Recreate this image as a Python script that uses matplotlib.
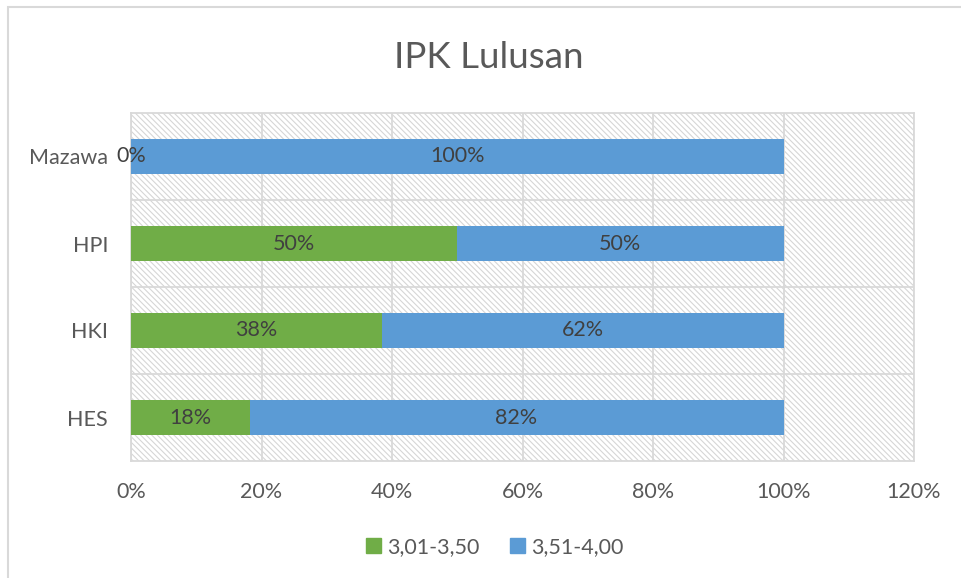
import matplotlib
matplotlib.use("Agg")
import matplotlib.pyplot as plt
from matplotlib.patches import Rectangle, Patch
from matplotlib.ticker import PercentFormatter, MultipleLocator

plt.rcParams["font.family"] = ["Lato", "DejaVu Sans"]
plt.rcParams["hatch.linewidth"] = 0.8
plt.rcParams["hatch.color"] = "#d6d6d6"

categories = ["HES", "HKI", "HPI", "Mazawa"]
series_names = ["3,01-3,50", "3,51-4,00"]
low = [0.1818, 0.3846, 0.50, 0.0]
high = [0.8182, 0.6154, 0.50, 1.0]

GREEN, BLUE, GRID, TXT = "#70AD47", "#5B9BD5", "#d9d9d9", "#595959"
FS = 15.5

fig = plt.figure(figsize=(9.61, 5.78), dpi=100)
# chart border (left / top visible)
fig.patches.append(Rectangle((8/961, -0.1), 1.2, 1.1 - 7/578, transform=fig.transFigure,
                             fill=False, edgecolor=GRID, lw=1.5))
ax = fig.add_axes([131/961, 1 - 461/578, 783/961, 348/578])
ax.set_facecolor("none")
ax.add_patch(Rectangle((0, 0), 1, 1, transform=ax.transAxes, facecolor="white",
                       edgecolor="#d6d6d6", hatch="\\\\\\\\\\\\", lw=0, zorder=0))

y = range(len(categories))
ax.barh(y, low, height=0.4, color=GREEN, zorder=3)
ax.barh(y, high, left=low, height=0.4, color=BLUE, zorder=3)

for i in y:
    ax.text(low[i] / 2, i, f"{low[i]*100:.0f}%", ha="center", va="center",
            fontsize=FS, color="#404040", zorder=4)
    ax.text(low[i] + high[i] / 2, i, f"{high[i]*100:.0f}%", ha="center", va="center",
            fontsize=FS, color="#404040", zorder=4)

ax.set_xlim(0, 1.2)
ax.set_ylim(-0.5, len(categories) - 0.5)
ax.xaxis.set_major_locator(MultipleLocator(0.2))
ax.xaxis.set_major_formatter(PercentFormatter(1.0, decimals=0))
ax.set_yticks(list(y))
ax.set_yticklabels(categories)
ax.set_yticks([k - 0.5 for k in range(1, len(categories))], minor=True)
ax.tick_params(axis="both", length=0, labelsize=FS, labelcolor=TXT)
ax.tick_params(axis="y", which="minor", length=0)
ax.tick_params(axis="x", pad=15)
ax.tick_params(axis="y", pad=16.5)
ax.grid(axis="x", color=GRID, lw=1.3, zorder=1)
ax.grid(axis="y", which="minor", color=GRID, lw=1.3, zorder=1)
ax.set_axisbelow(True)
for s in ax.spines.values():
    s.set_color(GRID)
    s.set_linewidth(1.3)

fig.text(0.509, 1 - 57/578, "IPK Lulusan", ha="center", va="center", fontsize=26.5, color=TXT)

handles = [Patch(color=GREEN, label=series_names[0]), Patch(color=BLUE, label=series_names[1])]
fig.legend(handles=handles, loc="center", bbox_to_anchor=(0.515, 1 - 547/578), ncol=2,
           frameon=False, fontsize=FS, handlelength=0.7, handleheight=0.7,
           handletextpad=0.3, columnspacing=1.4, labelcolor=TXT)

fig.savefig("out.png", dpi=100)
